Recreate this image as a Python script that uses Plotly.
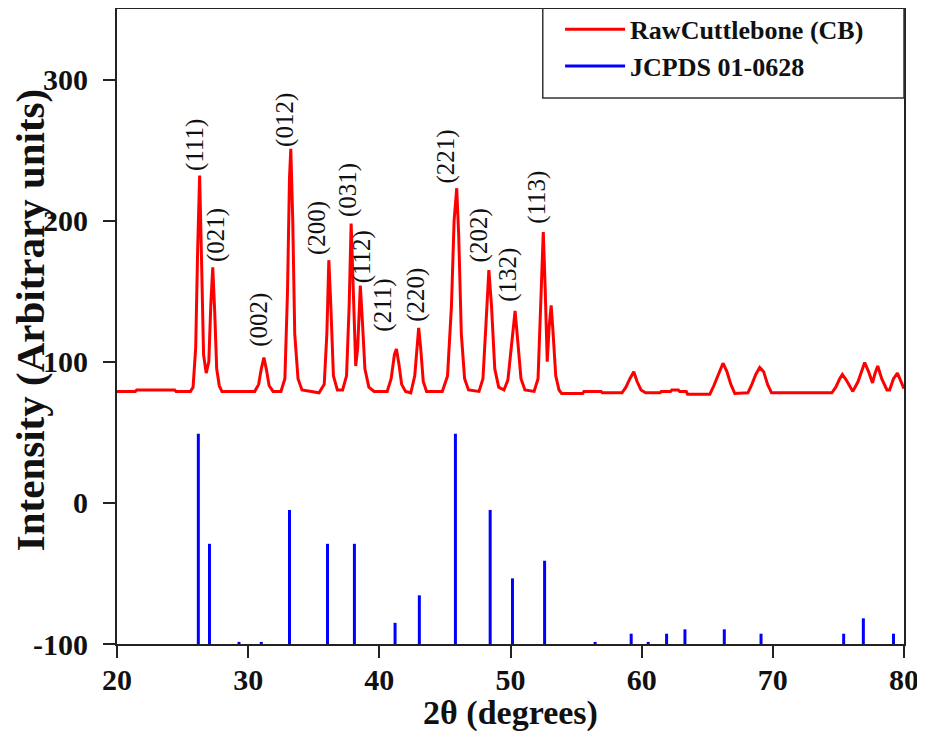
import plotly.graph_objects as go

# ---------------- data ----------------
# Raw cuttlebone XRD pattern (2theta, intensity)
cb_two_theta = [20.0, 21.4, 21.5, 24.4, 24.5, 25.6, 25.8, 26.0, 26.15, 26.3, 26.45, 26.6, 26.8,
                27.0, 27.15, 27.3, 27.45, 27.6, 27.8, 28.0, 30.5, 30.8, 31.0, 31.2, 31.4, 31.6,
                31.9, 32.5, 32.8, 33.0, 33.15, 33.25, 33.4, 33.55, 33.8, 34.1, 35.4, 35.8, 36.0,
                36.15, 36.3, 36.5, 36.8, 37.2, 37.5, 37.7, 37.85, 38.0, 38.2, 38.35, 38.55, 38.7,
                38.9, 39.2, 39.6, 40.6, 40.9, 41.15, 41.3, 41.5, 41.7, 42.0, 42.4, 42.7, 42.9,
                43.0, 43.15, 43.35, 43.6, 44.8, 45.2, 45.5, 45.7, 45.9, 46.05, 46.25, 46.5, 46.8,
                47.6, 47.9, 48.15, 48.35, 48.55, 48.8, 49.1, 49.5, 49.8, 50.1, 50.35, 50.55, 50.8,
                51.1, 51.8, 52.1, 52.3, 52.5, 52.65, 52.8, 52.95, 53.1, 53.25, 53.45, 53.7, 53.9,
                55.5, 55.6, 56.9, 57.0, 58.5, 58.8, 59.1, 59.4, 59.65, 59.95, 60.3, 61.4, 61.5,
                62.2, 62.3, 62.8, 62.9, 63.4, 63.5, 65.2, 65.5, 65.9, 66.2, 66.5, 66.8, 67.1,
                68.1, 68.4, 68.7, 69.0, 69.3, 69.6, 69.9, 74.5, 74.8, 75.1, 75.3, 75.6, 76.1,
                76.5, 76.8, 77.0, 77.3, 77.6, 77.8, 78.0, 78.3, 78.7, 78.9, 79.2, 79.5, 79.8, 80.0]
cb_intensity = [79, 79, 80, 80, 79, 79, 82, 110, 180, 232, 170, 105, 92,
                100, 140, 167, 135, 95, 83, 79, 79, 84, 95, 103, 94, 83,
                79, 79, 88, 150, 230, 251, 200, 120, 88, 80, 78, 84, 120,
                172, 140, 90, 80, 80, 90, 140, 198, 160, 97, 110, 154, 130,
                95, 82, 79, 79, 88, 105, 109, 98, 84, 79, 78, 90, 115,
                124, 110, 86, 79, 79, 90, 140, 200, 223, 190, 120, 88, 80,
                79, 88, 130, 165, 140, 95, 82, 80, 87, 115, 136, 115, 88,
                80, 79, 88, 140, 192, 150, 100, 125, 140, 120, 90, 80, 77.5,
                77.5, 79, 79, 78, 78, 82, 88, 93, 86, 80, 78, 78, 79,
                79, 80, 80, 79, 79, 77, 77, 83, 92, 99, 93, 84, 77.5,
                78, 84, 91, 96, 93, 84, 78, 78, 82, 88, 91, 87, 79,
                86, 95, 99.5, 93, 85, 92, 97, 88, 80, 80, 88, 92, 86, 81]

# JCPDS 01-0628 reference lines (position, top of line on the chart scale)
jcpds_two_theta = [26.2, 27.05, 29.3, 31.0, 33.15, 36.05, 38.1, 41.2, 43.05, 45.8, 48.45,
                   50.15, 52.6, 56.45, 59.2, 60.5, 61.9, 63.3, 66.3, 69.1, 75.4, 76.9, 79.2]
jcpds_top = [49, -29, -98.5, -98.5, -5, -29, -29, -85, -65.5, 49, -5,
             -53.5, -41, -98.5, -92.7, -98.5, -92.7, -89.6, -89.6, -92.7, -92.7, -81.8, -92.7]
jcpds_base = -100

# Miller-index labels (text, anchor 2theta, anchor intensity)
hkl_text = ["(111)", "(021)", "(002)", "(012)", "(200)", "(031)", "(112)",
            "(211)", "(220)", "(221)", "(202)", "(132)", "(113)"]
hkl_x = [25.9, 27.5, 30.8, 32.75, 35.3, 37.6, 38.7, 40.25, 42.8, 45.1, 47.6, 49.8, 52.0]
hkl_y = [234, 169.5, 109, 251, 174, 201, 154, 120, 127, 225, 169, 141, 196.5]

x_ticks = [20, 30, 40, 50, 60, 70, 80]
y_ticks = [-100, 0, 100, 200, 300]
y_tick_labels = ["-100", "0", "100", "200", "300"]

x_title = "2θ (degrees)"
y_title = "Intensity (Arbitrary units)"

# ---------------- figure ----------------
SERIF = "Liberation Serif, Times New Roman, serif"

stick_x, stick_y = [], []
for px, top in zip(jcpds_two_theta, jcpds_top):
    stick_x += [px, px, None]
    stick_y += [jcpds_base, top, None]

fig = go.Figure()
fig.add_trace(go.Scatter(x=cb_two_theta, y=cb_intensity, mode="lines",
                         name="RawCuttlebone (CB)",
                         line=dict(color="#ff0000", width=3)))
fig.add_trace(go.Scatter(x=stick_x, y=stick_y, mode="lines",
                         name="JCPDS 01-0628",
                         line=dict(color="#0000ff", width=3)))

for t, xx, yy in zip(hkl_text, hkl_x, hkl_y):
    fig.add_annotation(x=xx, y=yy, text=t, textangle=-90, showarrow=False,
                       xanchor="center", yanchor="bottom",
                       font=dict(family=SERIF, size=25, color="#111"))

# y-axis title placed as a rotated label left of the tick labels
fig.add_annotation(x=0, y=0.51, xref="paper", yref="paper", xshift=-87,
                   text=y_title, textangle=-90, showarrow=False,
                   xanchor="center", yanchor="middle",
                   font=dict(family=SERIF, size=41, color="#111", weight="bold"))

axis_common = dict(showline=True, mirror=True, linecolor="#222", linewidth=2,
                   ticks="outside", ticklen=12, tickwidth=2, tickcolor="#222",
                   showgrid=False, zeroline=False,
                   tickfont=dict(family=SERIF, size=30, color="#111", weight="bold"))

fig.update_xaxes(range=[20, 80], tickvals=x_ticks, ticklabelstandoff=-4,
                 title=dict(text=x_title, standoff=0,
                            font=dict(family=SERIF, size=34, color="#111", weight="bold")),
                 **axis_common)
fig.update_yaxes(range=[-100, 350], tickvals=y_ticks, ticktext=y_tick_labels,
                 ticklabelstandoff=9,
                 **axis_common)

# the page adds an 8px body margin, so the figure is 8px smaller than the window
fig.update_layout(
    width=917, height=724,
    margin=dict(l=109, r=21, t=1, b=88, autoexpand=False),
    paper_bgcolor="white", plot_bgcolor="white",
    showlegend=True,
    legend=dict(x=0.563, y=1.005, xanchor="left", yanchor="top",
                bgcolor="rgba(255,255,255,0)", borderwidth=0,
                itemwidth=60, tracegroupgap=0,
                font=dict(family=SERIF, size=26, color="#111", weight="bold")),
    shapes=[dict(type="rect", xref="paper", yref="paper",
                 x0=0.541, x1=1.0, y0=0.860, y1=1.003,
                 line=dict(color="#333", width=1.5), fillcolor="rgba(0,0,0,0)")],
)

fig.write_html("out.html")
